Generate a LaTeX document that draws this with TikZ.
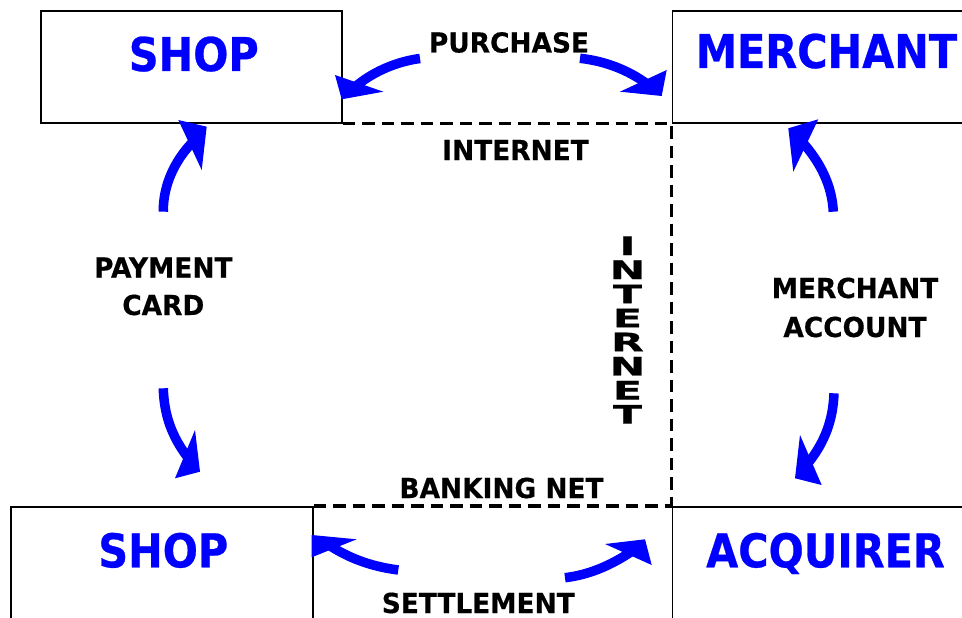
\documentclass[tikz,border=0pt]{standalone}
\usepackage{fontspec}
\usepackage{graphicx}
\setmainfont{DejaVu Sans}
\newfontfamily\titlefont{DejaVu Sans}[FakeStretch=0.89, BoldFeatures={FakeBold=0.6}]
\newfontfamily\labelfont{DejaVu Sans}[FakeStretch=0.96, BoldFeatures={FakeBold=0.4}]
\usetikzlibrary{calc}
\definecolor{cardblue}{RGB}{0,0,255}

% curved blue arrow: name, tail, control 1, control 2, base of head, head corner, tip, head corner
\newcommand\bluearrow[8]{%
  \coordinate (#1-tail) at #2;
  \coordinate (#1-tip) at #7;
  \coordinate (#1-end) at ($#5!0.2!#7$);
  \draw[shaft] (#1-tail) .. controls #3 and #4 .. (#1-end);
  \fill[head] #6 -- (#1-tip) -- #8 -- cycle;}

% letters of a word stacked one above the other
\newcommand\letterstack{\vbox{\baselineskip=25.9pt\lineskiplimit=-30pt\lineskip=0pt
  \halign{\hfil##\hfil\cr I\cr N\cr T\cr E\cr R\cr N\cr E\cr T\cr}}}

\begin{document}
\begin{tikzpicture}[x=1pt,y=-1pt,
  box/.style={draw=black, line width=1.6pt, inner sep=0pt, anchor=north west},
  net/.style={draw=black, line width=3.4pt, dash pattern=on 12.5pt off 7pt},
  shaft/.style={draw=cardblue, line width=9.5pt},
  head/.style={fill=cardblue},
  title/.style={text=cardblue, font=\titlefont\bfseries\fontsize{46.5}{50}\selectfont, inner sep=0pt, anchor=base},
  lbl/.style={text=black, font=\labelfont\bfseries\fontsize{27.5}{33}\selectfont, inner sep=0pt, anchor=base},
]
\useasboundingbox (0,0) rectangle (962,618);

% the four parties
\node[box, minimum width=301pt, minimum height=112pt] (shopA) at (40,10) {};
\node[box, minimum width=320pt, minimum height=112pt] (merchant) at (671.5,10) {};
\node[box, minimum width=302pt, minimum height=140pt] (shopB) at (10,506) {};
\node[box, minimum width=320pt, minimum height=140pt] (acquirer) at (671.5,506) {};

% network boundaries
\draw[net] (shopA.south east) -- (merchant.south west) -- (acquirer.north west);
\draw[net] (shopB.north east) -- (acquirer.north west);

% titles
\node[title] (shopAtitle) at (193.8,71) {SHOP};
\node[title] (merchanttitle) at (826.5,68) {MERCHANT};
\node[title] (shopBtitle) at (163.3,567.3) {SHOP};
\node[title] (acquirertitle) at (825.5,567.3) {ACQUIRER};

% flow labels
\node[lbl] (purchase) at (509,52.5) {PURCHASE};
\node[lbl] (internet) at (515.5,160) {INTERNET};
\node[lbl] (payA) at (163.3,277.5) {PAYMENT};
\node[lbl] (payB) at (163.3,315) {CARD};
\node[lbl] (maccA) at (855,298) {MERCHANT};
\node[lbl] (maccB) at (855,337) {ACCOUNT};
\node[lbl] (banking) at (501.5,498) {BANKING NET};
\node[lbl] (settlement) at (478.3,613) {SETTLEMENT};

% the word INTERNET written downwards beside the vertical boundary
\node[lbl, anchor=north] (vnet) at (627.5,236.2) {\scalebox{1.62}[0.93]{\letterstack}};

% arrows
\bluearrow{purL}{(420,58.5)}{(400,61)}{(375,70)}{(359,83.3)}{(335,75)}{(341.7,99.3)}{(383.3,91.7)}
\bluearrow{purR}{(580,58.3)}{(605,61)}{(628,70)}{(643.3,80.8)}{(666.7,70)}{(661.7,96)}{(620,91.7)}
\bluearrow{payU}{(163.3,211.7)}{(163,185)}{(175,160)}{(190,145)}{(178.3,120)}{(206.7,126.7)}{(201.7,170)}
\bluearrow{payD}{(163.3,388.3)}{(164,415)}{(172,437)}{(185,454.2)}{(195,430)}{(200,471.7)}{(175,478.3)}
\bluearrow{accU}{(833.3,211.7)}{(832,185)}{(820,162)}{(805.8,145.5)}{(818.3,119.3)}{(788.3,128.3)}{(793.3,171.7)}
\bluearrow{accD}{(834,393.3)}{(833,420)}{(825,442)}{(810.8,460)}{(800,435)}{(795,478.3)}{(821.7,485)}
\bluearrow{setL}{(398.3,570)}{(375,567)}{(352,560)}{(334.2,548.3)}{(356.7,539.3)}{(311.7,535)}{(311.7,557.3)}
\bluearrow{setR}{(565,577.7)}{(588,575)}{(610,566)}{(628.3,554.5)}{(605,544)}{(645,539.3)}{(651.7,565)}
\end{tikzpicture}
\end{document}
